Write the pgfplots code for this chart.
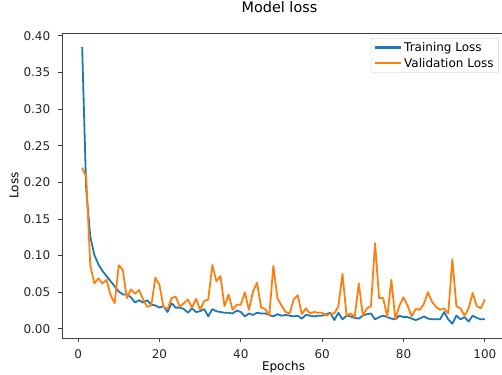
\documentclass[border=0pt]{standalone}
\usepackage{pgfplots}
\pgfplotsset{compat=1.18}
\usepackage{pgfplotstable}
\usepackage{fontspec}
\setmainfont{DejaVu Sans}
\definecolor{mplblue}{HTML}{1F77B4}
\definecolor{mplorange}{HTML}{FF7F0E}
\pgfplotstableread{
e t v
1 0.385 0.220
2 0.190 0.208
3 0.126 0.087
4 0.101 0.062
5 0.088 0.069
6 0.079 0.062
7 0.072 0.067
8 0.065 0.046
9 0.058 0.035
10 0.051 0.087
11 0.047 0.080
12 0.047 0.042
13 0.043 0.054
14 0.036 0.048
15 0.039 0.053
16 0.036 0.040
17 0.039 0.030
18 0.033 0.032
19 0.032 0.070
20 0.029 0.060
21 0.031 0.030
22 0.023 0.027
23 0.035 0.042
24 0.029 0.044
25 0.029 0.030
26 0.027 0.035
27 0.022 0.040
28 0.028 0.029
29 0.023 0.041
30 0.024 0.026
31 0.027 0.038
32 0.017 0.040
33 0.027 0.087
34 0.024 0.065
35 0.023 0.072
36 0.022 0.031
37 0.022 0.047
38 0.021 0.026
39 0.025 0.033
40 0.023 0.033
41 0.017 0.050
42 0.021 0.026
43 0.019 0.051
44 0.022 0.063
45 0.021 0.029
46 0.021 0.027
47 0.019 0.018
48 0.017 0.086
49 0.020 0.042
50 0.018 0.032
51 0.019 0.023
52 0.018 0.021
53 0.017 0.040
54 0.018 0.046
55 0.014 0.020
56 0.019 0.028
57 0.018 0.021
58 0.017 0.023
59 0.018 0.022
60 0.018 0.022
61 0.020 0.018
62 0.022 0.021
63 0.012 0.021
64 0.022 0.031
65 0.013 0.075
66 0.018 0.018
67 0.017 0.021
68 0.015 0.016
69 0.014 0.062
70 0.018 0.018
71 0.020 0.028
72 0.021 0.031
73 0.013 0.117
74 0.016 0.042
75 0.018 0.042
76 0.016 0.016
77 0.014 0.067
78 0.013 0.013
79 0.018 0.032
80 0.016 0.043
81 0.016 0.032
82 0.014 0.017
83 0.012 0.027
84 0.014 0.026
85 0.017 0.034
86 0.014 0.050
87 0.013 0.037
88 0.013 0.030
89 0.013 0.026
90 0.023 0.028
91 0.013 0.021
92 0.007 0.095
93 0.018 0.031
94 0.013 0.028
95 0.016 0.018
96 0.010 0.028
97 0.018 0.049
98 0.015 0.031
99 0.013 0.028
100 0.013 0.040
}\losstable
\begin{document}
\begin{tikzpicture}[x=1pt,y=1pt]
\begin{axis}[
  at={(62pt,36pt)}, anchor=south west,
  scale only axis, width=443pt, height=305pt,
  xmin=-3.95, xmax=104.95, ymin=-0.0125, ymax=0.404,
  xtick={0,20,...,100},
  ytick={0,0.05,...,0.4},
  scaled y ticks=false,
  /pgf/number format/assume math mode=true,
  yticklabel={\pgfmathprintnumber[fixed,fixed zerofill,precision=2]{\tick}},
  tick align=outside, major tick length=4.2pt,
  tick style={black!75, line width=0.9pt},
  axis line style={black!75, line width=0.9pt},
  xtick pos=bottom, ytick pos=left,
  ticklabel style={font=\fontsize{12}{14}\selectfont, text=black!85},
  xticklabel style={yshift=-4pt},
  yticklabel style={xshift=-4pt},
  title={Model loss},
  title style={font=\fontsize{14.4}{17}\selectfont, at={(axis description cs:0.5,1.066)}, anchor=center, xshift=-4pt},
  xlabel={Epochs},
  xlabel style={font=\fontsize{12}{14}\selectfont, at={(axis description cs:0.5,-0.095)}, anchor=center},
  ylabel={Loss},
  ylabel style={font=\fontsize{12}{14}\selectfont, at={(axis description cs:-0.108,0.5)}, anchor=center},
  legend style={at={(axis description cs:0.986,0.984)}, anchor=north east,
    font=\fontsize{12}{14}\selectfont, draw=black!20, rounded corners=2pt,
    fill=white, fill opacity=0.8, text opacity=1,
    inner xsep=3pt, inner ysep=1.5pt,
    nodes={inner ysep=2.6pt}},
  legend cell align=left,
  legend image code/.code={\draw[#1, line width=2.2pt] (0pt,0pt) -- (26pt,0pt);},
]
\addplot[mplblue, line width=1.8pt, line join=round] table[x=e,y=t]{\losstable};
\addlegendentry{Training Loss}
\addplot[mplorange, line width=1.8pt, line join=round] table[x=e,y=v]{\losstable};
\addlegendentry{Validation Loss}
\end{axis}
\pgfresetboundingbox
\useasboundingbox (0,0) rectangle (502,374);
\end{tikzpicture}
\end{document}
